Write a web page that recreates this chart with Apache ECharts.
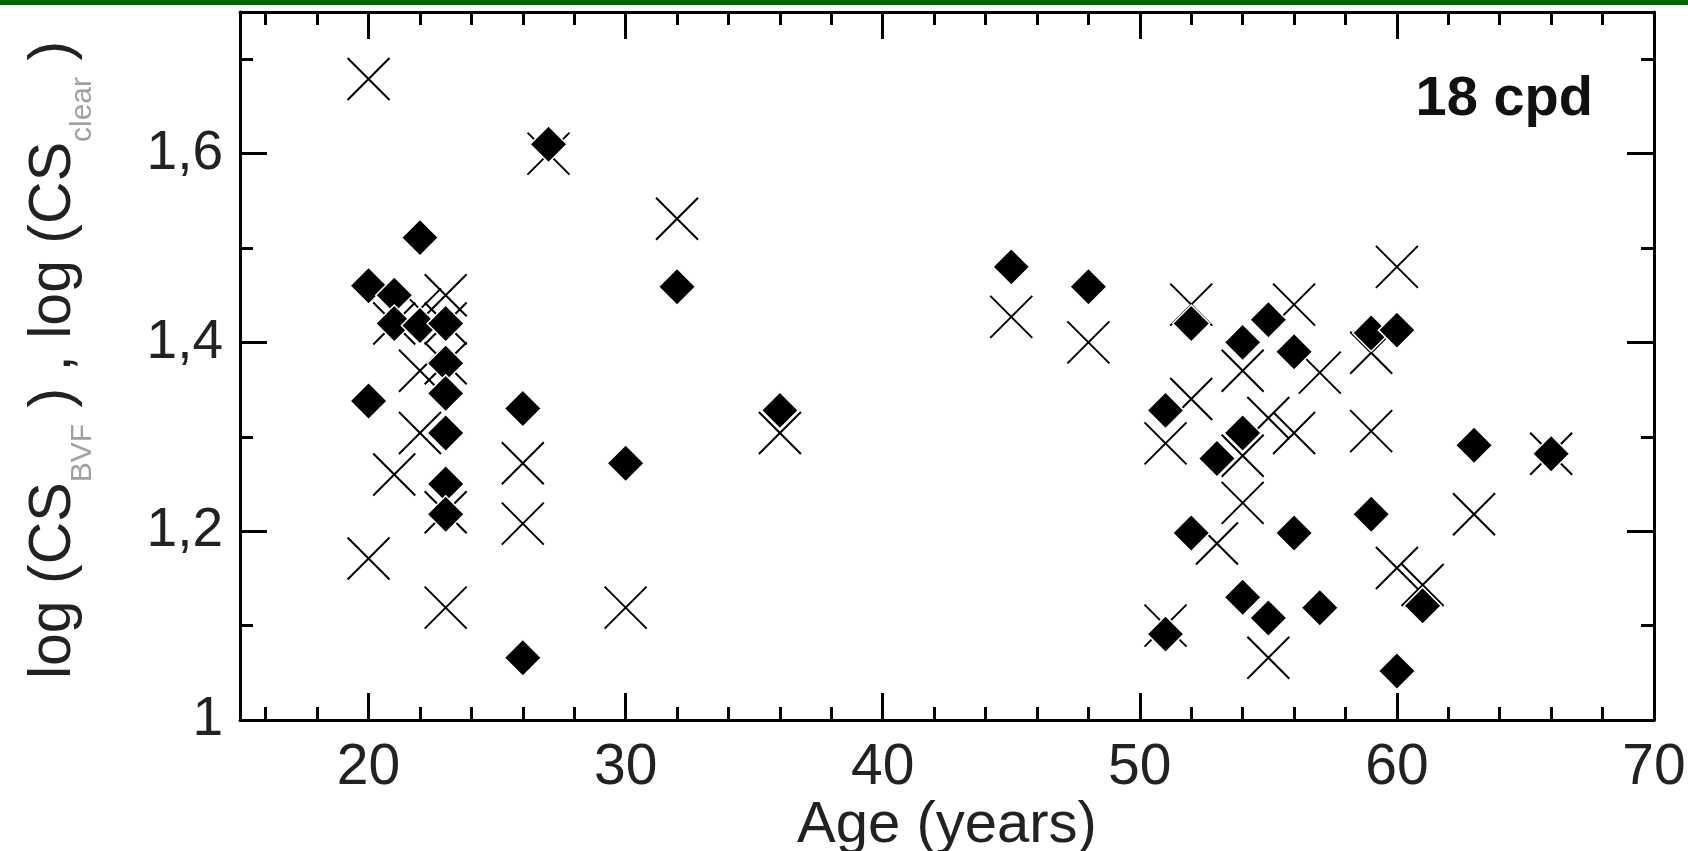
<!doctype html>
<html lang="en">
<head>
    <meta charset="utf-8" />
    <title>18 cpd</title>
    <script src="https://cdn.jsdelivr.net/npm/echarts@6/dist/echarts.min.js"></script>
    <style type="text/css">
        html, body { margin: 0; padding: 0; background: #fff; }
        #chart { width: 1688px; height: 851px; }
    </style>
</head>
<body>
<div id="chart"></div>
<script>
    /* filled diamonds: log(CS_BVF) */
    var bvfAge = [20, 20, 21, 21, 22, 22, 23, 23, 23, 23, 23, 23, 26, 26, 27, 30, 32, 36, 45, 48,
                  51, 51, 52, 52, 53, 54, 54, 54, 55, 55, 56, 56, 57, 59, 59, 60, 60, 61, 63, 66];
    var bvfLog = [1.46, 1.338, 1.45, 1.42, 1.511, 1.418, 1.42, 1.378, 1.346, 1.304, 1.25, 1.218, 1.33, 1.066, 1.61, 1.272, 1.459, 1.328, 1.48, 1.459,
                  1.328, 1.091, 1.42, 1.198, 1.277, 1.40, 1.304, 1.13, 1.424, 1.108, 1.39, 1.198, 1.119, 1.41, 1.218, 1.413, 1.052, 1.121, 1.291, 1.282];

    /* crosses: log(CS_clear) */
    var clearAge = [20, 20, 21, 21, 22, 22, 22, 23, 23, 23, 23, 23, 26, 26, 27, 30, 32, 36, 45, 48,
                    51, 51, 52, 52, 53, 54, 54, 54, 55, 55, 56, 56, 57, 59, 59, 60, 60, 61, 63, 66];
    var clearLog = [1.679, 1.171, 1.42, 1.26, 1.435, 1.37, 1.304, 1.45, 1.42, 1.378, 1.22, 1.119, 1.272, 1.208, 1.60, 1.119, 1.531, 1.304, 1.427, 1.40,
                    1.293, 1.10, 1.44, 1.34, 1.187, 1.37, 1.28, 1.23, 1.32, 1.066, 1.44, 1.304, 1.368, 1.389, 1.306, 1.48, 1.161, 1.143, 1.218, 1.282];

    var xMajor = [20, 30, 40, 50, 60, 70];
    var xMinor = [16, 18, 22, 24, 26, 28, 32, 34, 36, 38, 42, 44, 46, 48, 52, 54, 56, 58, 62, 64, 66, 68];
    var yMajor = [1, 1.2, 1.4, 1.6];
    var yMinor = [1.1, 1.3, 1.5, 1.7];

    var FONT = 'Liberation Sans';
    var INK = '#000';

    function pairs(xs, ys) {
        var out = [];
        for (var i = 0; i < xs.length; i++) {
            out.push([xs[i], ys[i]]);
        }
        return out;
    }

    // one axis per tick set, so majors and minors can have different lengths
    function xAx(pos, ticks, len, showLine, labels) {
        return {
            type: 'value', position: pos, min: 15, max: 70,
            axisLine: { show: showLine, onZero: false, lineStyle: { color: INK, width: 3 } },
            axisTick: { show: true, inside: true, length: len, customValues: ticks, lineStyle: { color: INK, width: 3 } },
            axisLabel: labels ? {
                show: true, customValues: xMajor, margin: 20,
                fontFamily: FONT, fontSize: 57, color: '#222'
            } : { show: false },
            splitLine: { show: false }
        };
    }

    function yAx(pos, ticks, len, showLine, labels) {
        return {
            type: 'value', position: pos, min: 1, max: 1.75,
            axisLine: { show: showLine, onZero: false, lineStyle: { color: INK, width: 3 } },
            axisTick: { show: true, inside: true, length: len, customValues: ticks, lineStyle: { color: INK, width: 3 } },
            axisLabel: labels ? {
                show: true, customValues: yMajor, margin: 17,
                fontFamily: FONT, fontSize: 55, color: '#222',
                formatter: function (v) { return String(+v.toFixed(1)).replace('.', ','); }
            } : { show: false },
            splitLine: { show: false }
        };
    }

    var xAxes = [
        xAx('bottom', xMajor, 27, true, true),
        xAx('bottom', xMinor, 13, false, false),
        xAx('top', xMajor, 27, true, false),
        xAx('top', xMinor, 13, false, false)
    ];
    xAxes[0].name = 'Age (years)';
    xAxes[0].nameLocation = 'middle';
    xAxes[0].nameGap = 77;
    xAxes[0].nameMoveOverlap = false;
    xAxes[0].nameTextStyle = { fontFamily: FONT, fontSize: 58, color: '#222' };

    var yAxes = [
        yAx('left', yMajor, 27, true, true),
        yAx('left', yMinor, 13, false, false),
        yAx('right', yMajor, 27, true, false),
        yAx('right', yMinor, 13, false, false)
    ];
    yAxes[0].name = 'log (CS{sub|BVF} ) , log (CS{sub|clear} )';
    yAxes[0].nameLocation = 'middle';
    yAxes[0].nameRotate = 90;
    yAxes[0].nameGap = 142;
    yAxes[0].nameMoveOverlap = false;
    yAxes[0].nameTextStyle = {
        fontFamily: FONT, fontSize: 59, color: '#222', lineHeight: 59,
        padding: [0, 0, 0, 12],
        rich: {
            sub: { fontFamily: FONT, fontSize: 30, color: '#a0a0a0', lineHeight: 88, verticalAlign: 'bottom' }
        }
    };

    var chart = echarts.init(document.getElementById('chart'));
    chart.setOption({
        animation: false,
        backgroundColor: '#fff',
        grid: { left: 240, right: 34, top: 12, bottom: 131, containLabel: false, outerBoundsMode: 'none' },
        xAxis: xAxes,
        yAxis: yAxes,
        graphic: [
            { type: 'rect', shape: { x: 0, y: 0, width: 1688, height: 5 }, style: { fill: '#006400' } },
            {
                type: 'text', x: 1593, y: 128,
                style: {
                    text: '18 cpd', align: 'right', verticalAlign: 'bottom',
                    font: 'bold 56px "Liberation Sans"', fill: '#111'
                }
            }
        ],
        series: [
            {
                name: 'clear', type: 'scatter', xAxisIndex: 0, yAxisIndex: 0,
                data: pairs(clearAge, clearLog),
                symbol: 'path://M0,0L10,10M10,0L0,10',
                symbolSize: 42,
                itemStyle: { color: 'none', borderColor: INK, borderWidth: 2, opacity: 1 },
                z: 2
            },
            {
                name: 'BVF', type: 'scatter', xAxisIndex: 0, yAxisIndex: 0,
                data: pairs(bvfAge, bvfLog),
                symbol: 'diamond',
                symbolSize: 37,
                itemStyle: { color: INK, borderColor: '#fff', borderWidth: 1.5, opacity: 1 },
                z: 3
            }
        ]
    });
</script>
</body>
</html>
